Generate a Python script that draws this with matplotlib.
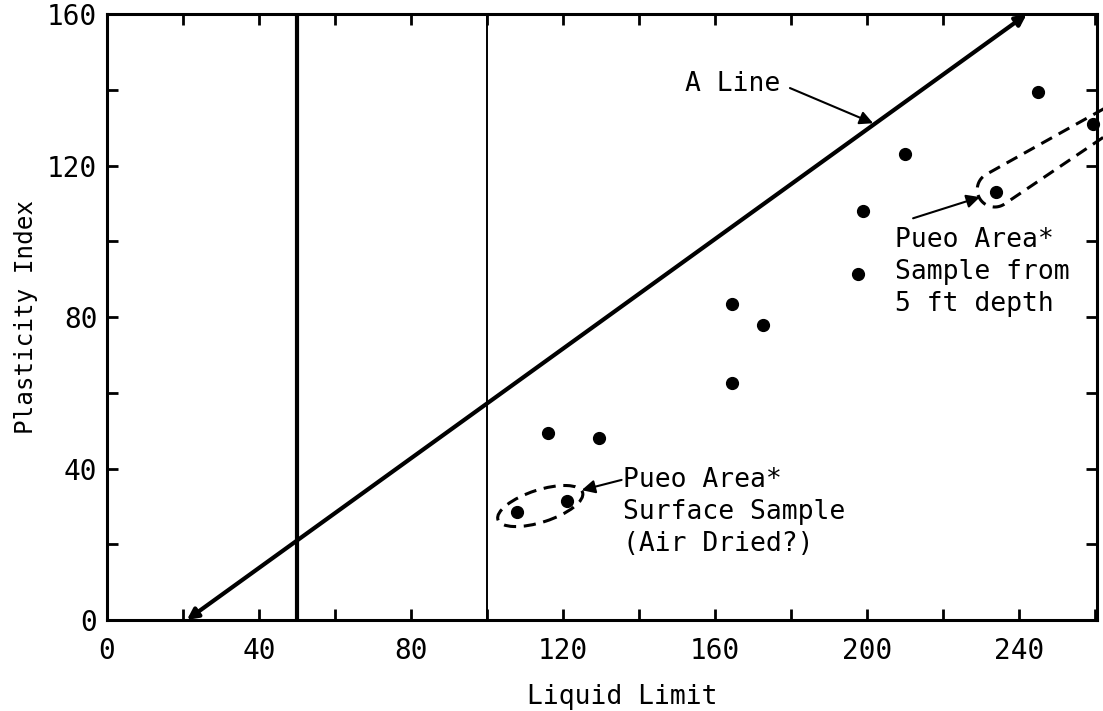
"""Plasticity chart: liquid limit vs plasticity index with the A line."""
import numpy as np
import matplotlib
matplotlib.use("Agg")
import matplotlib.pyplot as plt
import matplotlib.ticker as mticker
from matplotlib.patches import Ellipse

plt.rcParams["font.family"] = ["DejaVu Sans Mono"]

# sample results (liquid limit, plasticity index)
LIQUID_LIMIT = [116, 129.5, 121, 108, 164.5, 172.5, 164.5, 197.5, 199, 210, 234, 245, 259.5]
PLASTICITY_INDEX = [49.5, 48, 31.5, 28.5, 83.5, 78, 62.5, 91.5, 108, 123, 113, 139.5, 131]

# A line end points
A_LINE_LL = [21, 242]
A_LINE_PI = [0, 160]

# vertical divisions (LL = 50 heavy, LL = 100 light)
DIVISIONS = [50, 100]

INK = "black"
DASH = (0, (4, 2.5))


def tapered_loop(cx, cy, angle, r_start, r_end, length, offset=0.0):
    """Outline of a loop rounded near (cx, cy), narrowing as it runs along `angle`.

    `offset` shifts the loop sideways (perpendicular to its axis).
    """
    t = np.deg2rad(angle)
    u = np.array([np.cos(t), np.sin(t)])
    n = np.array([-np.sin(t), np.cos(t)])
    c = np.array([cx, cy]) + offset * n
    phi = np.linspace(np.pi / 2, 3 * np.pi / 2, 40)
    arc = c + r_start * (np.outer(np.cos(phi), u) + np.outer(np.sin(phi), n))
    top = c + length * u + r_end * n
    bottom = c + length * u - r_end * n
    pts = np.vstack([top, arc, bottom])
    return pts[:, 0], pts[:, 1]


fig = plt.figure(figsize=(11.03, 7.11), dpi=100)
ax = fig.add_axes([0.097, 0.128, 0.8976, 0.852])

ax.set_xlim(0, 260.5)
ax.set_ylim(0, 160)

ax.axvline(DIVISIONS[0], color=INK, lw=3.0)
ax.axvline(DIVISIONS[1], color=INK, lw=1.4)

ax.annotate("", xy=(A_LINE_LL[1], A_LINE_PI[1]), xytext=(A_LINE_LL[0], A_LINE_PI[0]),
            arrowprops=dict(arrowstyle="<|-|>", lw=3.0, color=INK,
                            shrinkA=0, shrinkB=0, mutation_scale=16),
            annotation_clip=False)

ax.plot(LIQUID_LIMIT, PLASTICITY_INDEX, "o", color=INK, ms=8.5, clip_on=False)

# dashed loops around the Pueo Area samples
ax.add_patch(Ellipse((114, 30.1), 23.4, 8.5, angle=18, fill=False, ec=INK,
                     lw=2.2, ls=DASH))

lx, ly = tapered_loop(LIQUID_LIMIT[10], PLASTICITY_INDEX[10], 31.7, 4.6, 2.9, 40,
                      offset=0.8)
ax.plot(lx, ly, color=INK, lw=2.2, ls=DASH, clip_on=False)

arrow = dict(arrowstyle="-|>", lw=1.5, color=INK, shrinkA=0, shrinkB=0, mutation_scale=20)
ax.annotate("", xy=(201.6, 131.2), xytext=(179.7, 140.5), arrowprops=arrow)
ax.text(152, 141.5, "A Line", fontsize=19, ha="left", va="center")

ax.annotate("", xy=(124.9, 34.3), xytext=(135.4, 37.0), arrowprops=arrow)
ax.text(135.8, 28.5, "Pueo Area*\nSurface Sample\n(Air Dried?)", fontsize=19,
        ha="left", va="center", linespacing=1.3)

ax.annotate("", xy=(229.7, 111.7), xytext=(212.1, 106.1), arrowprops=arrow)
ax.text(207.4, 91.9, "Pueo Area*\nSample from\n5 ft depth", fontsize=19,
        ha="left", va="center", linespacing=1.3)

ax.xaxis.set_major_locator(mticker.MultipleLocator(40))
ax.xaxis.set_minor_locator(mticker.MultipleLocator(20))
ax.yaxis.set_major_locator(mticker.MultipleLocator(40))
ax.yaxis.set_minor_locator(mticker.MultipleLocator(20))
ax.tick_params(which="both", direction="in", top=True, right=True,
               length=8, width=2, color=INK)
ax.tick_params(axis="x", labelsize=20, pad=12)
ax.tick_params(axis="y", labelsize=20, pad=7)

for s in ax.spines.values():
    s.set_linewidth(2.2)

ax.set_xlabel("Liquid Limit", fontsize=19)
ax.set_ylabel("Plasticity Index", fontsize=17.5)
ax.xaxis.set_label_coords(0.52, -0.105)
ax.yaxis.set_label_coords(-0.07, 0.5)

fig.savefig("out.png", dpi=100)
